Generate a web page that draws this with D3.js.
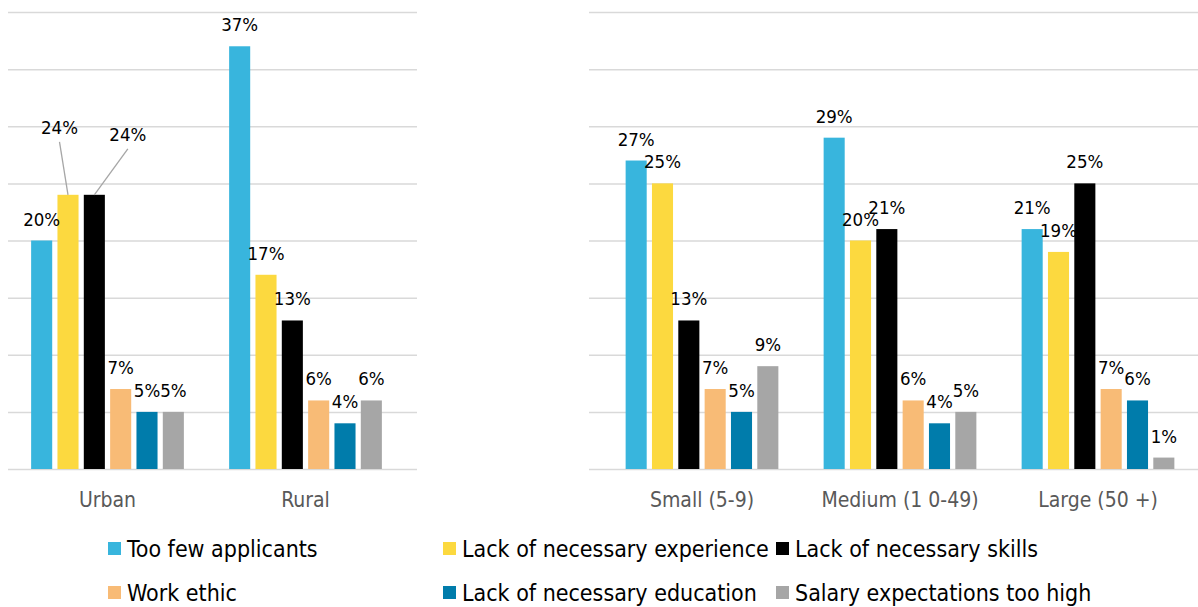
<!DOCTYPE html>
<html>
<head>
<meta charset="utf-8">
<script src="https://cdn.jsdelivr.net/npm/d3@7"></script>
<style>
  html, body { margin: 0; padding: 0; background: #fff; }
  svg { display: block; font-family: "DejaVu Sans Condensed", "DejaVu Sans", sans-serif; }
</style>
</head>
<body>
<svg id="chart" width="1198" height="607"></svg>
<script>
// Reasons employers give for hard-to-fill vacancies (% of respondents)
const seriesNames = [
  "Too few applicants",
  "Lack of necessary experience",
  "Lack of necessary skills",
  "Work ethic",
  "Lack of necessary education",
  "Salary expectations too high"
];
const seriesColors = ["#38B5DD", "#FCD93F", "#000000", "#F8BB76", "#007CAB", "#A6A6A6"];

// By location
const locationCategories = ["Urban", "Rural"];
const urbanValues = [20, 24, 24, 7, 5, 5];
const ruralValues = [37, 17, 13, 6, 4, 6];

// By business size
const sizeCategories = ["Small (5-9)", "Medium (1 0-49)", "Large (50 +)"];
const smallValues  = [27, 25, 13, 7, 5, 9];
const mediumValues = [29, 20, 21, 6, 4, 5];
const largeValues  = [21, 19, 25, 7, 6, 1];

const gridTicks = [0, 5, 10, 15, 20, 25, 30, 35, 40];

const svg = d3.select("#chart");

const y = d3.scaleLinear().domain([0, 40]).range([469, 12]);

function drawPanel(cfg) {
  const g = svg.append("g");

  // horizontal gridlines
  const grid = d3.axisLeft(y).tickValues(gridTicks).tickSize(-(cfg.gridRight - cfg.gridLeft)).tickFormat("");
  g.append("g")
    .attr("transform", `translate(${cfg.gridLeft},0)`)
    .call(grid)
    .call(a => a.select(".domain").remove())
    .call(a => a.selectAll("line").attr("stroke", "#D9D9D9").attr("stroke-width", 1.5));

  const x0 = d3.scaleBand().domain(cfg.categories).range(cfg.bandRange);
  const x1 = d3.scaleBand().domain(d3.range(seriesNames.length))
    .range([x0.bandwidth() / 2 - 79, x0.bandwidth() / 2 + 79])
    .paddingInner(0.2).paddingOuter(0.1);

  const groups = g.selectAll(".grp")
    .data(cfg.categories.map((c, i) => ({ cat: c, values: cfg.values[i], labelShift: (cfg.labelShift || {})[c] || {} })))
    .join("g")
    .attr("transform", d => `translate(${x0(d.cat)},0)`);

  groups.selectAll("rect")
    .data(d => d.values.map((v, i) => ({ v, i })))
    .join("rect")
    .attr("x", d => x1(d.i))
    .attr("width", x1.bandwidth())
    .attr("y", d => y(d.v))
    .attr("height", d => y(0) - y(d.v))
    .attr("fill", d => seriesColors[d.i]);

  // value labels (some moved off the bar with a leader line)
  groups.each(function (gd) {
    const sel = d3.select(this);
    gd.values.forEach((v, i) => {
      const cx = x1(i) + x1.bandwidth() / 2;
      const shift = gd.labelShift[i];
      let lx = cx, ly = y(v) - 15;
      if (shift) {
        lx += shift.dx; ly += shift.dy;
        sel.append("line")
          .attr("x1", lx + shift.lineDx).attr("y1", ly + 8)
          .attr("x2", cx).attr("y2", y(v))
          .attr("stroke", "#A6A6A6").attr("stroke-width", 1.3);
      }
      sel.append("text")
        .attr("x", lx).attr("y", ly)
        .attr("text-anchor", "middle")
        .attr("font-size", 18.5)
        .attr("fill", "#000")
        .text(v + "%");
    });
  });

  // category axis labels
  g.append("g")
    .attr("transform", `translate(0,${y(0)})`)
    .call(d3.axisBottom(x0).tickSize(0))
    .call(a => a.select(".domain").remove())
    .call(a => a.selectAll("text")
      .attr("y", 38).attr("dy", 0)
      .attr("font-family", "DejaVu Sans Condensed, DejaVu Sans, sans-serif")
      .attr("font-size", 21).attr("fill", "#595959"));
}

drawPanel({
  categories: locationCategories,
  values: [urbanValues, ruralValues],
  gridLeft: 8, gridRight: 417,
  bandRange: [8.5, 404.5],
  labelShift: { Urban: { 1: { dx: -8.5, dy: -46, lineDx: 0 }, 2: { dx: 33.5, dy: -39, lineDx: 0 } } }
});

drawPanel({
  categories: sizeCategories,
  values: [smallValues, mediumValues, largeValues],
  gridLeft: 589, gridRight: 1198,
  bandRange: [603, 1197]
});

// legend
const legendCols = [108, 443, 776];
const legendRows = [549, 593];
const legend = svg.append("g")
  .selectAll("g")
  .data(seriesNames)
  .join("g")
  .attr("transform", (d, i) => `translate(${legendCols[i % 3]},${legendRows[Math.floor(i / 3)]})`);
legend.append("rect")
  .attr("x", 0).attr("y", -7).attr("width", 13).attr("height", 13)
  .attr("fill", (d, i) => seriesColors[i]);
legend.append("text")
  .attr("x", 19).attr("y", 8)
  .attr("font-size", 23)
  .attr("fill", "#000")
  .text(d => d);
</script>
</body>
</html>
